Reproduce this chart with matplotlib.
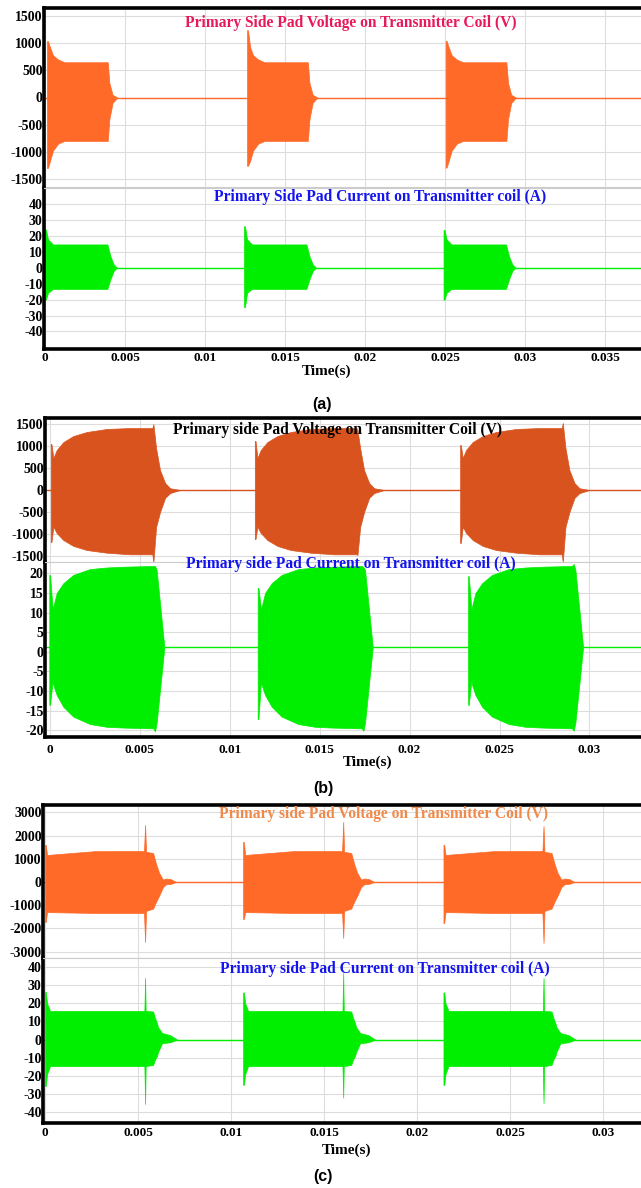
import numpy as np
import matplotlib.pyplot as plt
from matplotlib.ticker import FuncFormatter

plt.rcParams['font.family'] = ['Liberation Serif', 'DejaVu Serif']
plt.rcParams['font.weight'] = 'bold'

W, H = 641, 1188

ORANGE = '#ff6a28'
DARK_ORANGE = '#d9531e'
GREEN = '#00ee00'
BLUE = '#1414ee'

# ---------------- panel (a) ----------------
a_v_starts = [0.000125, 0.01263, 0.02504]
a_v_off = [0.0, 0.00006, 0.00019, 0.000375, 0.0007, 0.0011, 0.0038, 0.0039, 0.0041, 0.0044]
a_v_hi = [1040, 1040, 930, 780, 700, 650, 650, 270, 50, 0]
a_v_lo = [-1300, -1300, -1170, -980, -850, -800, -800, -400, -100, 0]
a_v_start_hi = [1040, 1240, 1044]
a_v_start_lo = [-1300, -1260, -1292]

a_i_starts = [0.0, 0.01244, 0.02491]
a_i_off = [0.0, 0.00006, 0.00019, 0.0005, 0.0039, 0.0041, 0.0043, 0.0045]
a_i_hi = [24, 24, 17.8, 14.6, 14.6, 7, 2, 0]
a_i_lo = [-20, -20, -15.8, -13.3, -13.3, -7, -2, 0]
a_i_start_hi = [24, 26, 23.7]
a_i_start_lo = [-20, -24.7, -20]

# ---------------- panel (b) ----------------
b_v_starts = [0.00004, 0.01139, 0.02281]
b_v_off = [0.0, 0.00004, 0.000145, 0.00033, 0.0007, 0.00126, 0.0020, 0.00311,
           0.00441, 0.00565, 0.00571, 0.00586, 0.00608, 0.00636, 0.00664, 0.00719]
b_v_hi = [1048, 1048, 729, 911, 1093, 1230, 1321, 1390, 1412, 1412, 1500, 950, 450, 160, 40, 0]
b_v_lo = [-1185, -1185, -835, -980, -1140, -1275, -1367, -1428, -1465, -1465, -1640,
          -840, -500, -180, -70, 0]
b_v_start_hi = [1048, 1116, 1025]
b_v_start_lo = [-1185, -1116, -1207]
b_v_end_hi = [1500, 1367, 1526]
b_v_end_lo = [-1640, -1480, -1640]

b_i_idle = 1.2
b_i_starts = [-0.00004, 0.01155, 0.02325]
b_i_off = [0.0, 0.00004, 0.00019, 0.00022, 0.00041, 0.00078, 0.00133, 0.00226,
           0.00319, 0.00412, 0.00578, 0.00588, 0.00597, 0.0064]
b_i_hi = [19.6, 19.6, 10.7, 11.5, 15.0, 17.5, 19.6, 21.1, 21.5, 21.7, 21.9, 21.9, 20.9, 1.2]
b_i_lo = [-13.5, -13.5, -7.2, -8.4, -11.0, -14.0, -16.5, -18.4, -19.1, -19.3, -19.5, -20.3, -18.1, 1.2]
b_i_start_hi = [19.6, 16.3, 19.3]
b_i_start_lo = [-13.5, -17.1, -13.5]
b_i_end_hi = [21.9, 21.6, 22.4]
b_i_end_lo = [-20.3, -20.1, -20.1]

# ---------------- panel (c) ----------------
c_starts = [0.0, 0.01065, 0.02142]
c_v_off = [0.0, 0.00004, 0.00011, 0.00269, 0.00532, 0.00538, 0.00543, 0.00581,
           0.00597, 0.00613, 0.00634, 0.00651, 0.00677, 0.00704]
c_v_hi = [1600, 1600, 1165, 1330, 1337, 2460, 1300, 1250, 780, 400, 100, 150, 120, 0]
c_v_lo = [-1725, -1725, -1300, -1337, -1337, -2590, -1250, -1150, -850, -600, -220, -100, -80, 0]
c_v_start_hi = [1600, 1725, 1600]
c_v_start_lo = [-1725, -1600, -1770]
c_v_end_hi = [2460, 2590, 2415]
c_v_end_lo = [-2590, -2415, -2630]

c_i_off = [0.0, 0.00004, 0.00011, 0.00027, 0.00534, 0.00538, 0.00541, 0.00581,
           0.00591, 0.00602, 0.00607, 0.00629, 0.00672, 0.0071]
c_i_hi = [26.3, 26.3, 20, 15.8, 15.8, 34, 15.8, 15.5, 12, 9, 7, 3.6, 2.5, 0]
c_i_lo = [-25.6, -25.6, -19, -14.6, -14.6, -35.5, -14.6, -14, -11, -9, -7, -2, -1.5, 0]
c_i_start_hi = [26.3, 26, 26]
c_i_start_lo = [-25.6, -25, -25]
c_i_end_hi = [34, 36.7, 34]
c_i_end_lo = [-35.5, -32, -35]

volt_ticks_ab = [-1500, -1000, -500, 0, 500, 1000, 1500]
volt_ticks_c = [-3000, -2000, -1000, 0, 1000, 2000, 3000]
curr_ticks_40 = [-40, -30, -20, -10, 0, 10, 20, 30, 40]
curr_ticks_20 = [-20, -15, -10, -5, 0, 5, 10, 15, 20]
time_ticks_a = [0, 0.005, 0.01, 0.015, 0.02, 0.025, 0.03, 0.035]
time_ticks_bc = [0, 0.005, 0.01, 0.015, 0.02, 0.025, 0.03]


def add_ax(left, top, bottom):
    return fig.add_axes([left / W, 1 - bottom / H, (W - left) / W, (bottom - top) / H])


def style(ax, xlim, xticks, ylim, yticks, upper, xpad=2):
    ax.set_xlim(xlim)
    ax.set_ylim(ylim)
    ax.set_xticks(xticks)
    ax.set_yticks(yticks)
    ax.xaxis.set_major_formatter(FuncFormatter(lambda v, p: f'{v:g}'))
    ax.yaxis.set_major_formatter(FuncFormatter(lambda v, p: f'{v:g}'))
    ax.grid(True, color='#dddddd', lw=0.8)
    ax.set_axisbelow(True)
    ax.tick_params(length=0, labelsize=9.5, pad=1)
    ax.tick_params(axis='y', labelsize=10)
    ax.tick_params(axis='x', pad=xpad)
    ax.spines['right'].set_visible(False)
    ax.spines['left'].set_linewidth(2.6)
    if upper:
        ax.spines['top'].set_linewidth(2.6)
        ax.spines['bottom'].set_color('#cccccc')
        ax.spines['bottom'].set_linewidth(0.8)
        ax.tick_params(axis='x', labelbottom=False)
    else:
        ax.spines['bottom'].set_linewidth(2.6)
        ax.spines['top'].set_color('#cccccc')
        ax.spines['top'].set_linewidth(0.8)


def draw(ax, starts, off, hi, lo, s_hi, s_lo, color, idle=0.0,
         end_idx=None, e_hi=None, e_lo=None):
    ax.axhline(idle, color=color, lw=1.0, zorder=1)
    for k, t0 in enumerate(starts):
        h = np.array(hi, float)
        l = np.array(lo, float)
        h[:2] = s_hi[k]
        l[:2] = s_lo[k]
        if end_idx is not None:
            h[end_idx] = e_hi[k]
            l[end_idx] = e_lo[k]
        ax.fill_between(t0 + np.array(off), l, h, color=color, lw=0.5, zorder=2)


def ftext(x, y, s, **kw):
    fig.text(x / W, 1 - y / H, s, ha='center', va='center', **kw)


fig = plt.figure(figsize=(W / 100, H / 100), dpi=100)

# ---- (a) ----
xa = (-0.00006, 0.03725)
ax = add_ax(44, 8, 187)
draw(ax, a_v_starts, a_v_off, a_v_hi, a_v_lo, a_v_start_hi, a_v_start_lo, ORANGE)
style(ax, xa, time_ticks_a, (-1650, 1650), volt_ticks_ab, True)
ax = add_ax(44, 188, 349)
draw(ax, a_i_starts, a_i_off, a_i_hi, a_i_lo, a_i_start_hi, a_i_start_lo, GREEN)
style(ax, xa, time_ticks_a, (-51, 50), curr_ticks_40, False)
ftext(351, 23, 'Primary Side Pad Voltage on Transmitter Coil (V)', color='#e8185a', fontsize=11.2)
ftext(380, 197, 'Primary Side Pad Current on Transmitter coil (A)', color=BLUE, fontsize=11.2)
ftext(327, 371, 'Time(s)', fontsize=11)
ftext(322, 405, '(a)', fontsize=11.5, family='Liberation Sans')

# ---- (b) ----
xb = (-0.00028, 0.03287)
ax = add_ax(45, 418, 562)
draw(ax, b_v_starts, b_v_off, b_v_hi, b_v_lo, b_v_start_hi, b_v_start_lo, DARK_ORANGE,
     end_idx=10, e_hi=b_v_end_hi, e_lo=b_v_end_lo)
style(ax, xb, time_ticks_bc, (-1640, 1640), volt_ticks_ab, True)
ax = add_ax(45, 562, 737)
draw(ax, b_i_starts, b_i_off, b_i_hi, b_i_lo, b_i_start_hi, b_i_start_lo, GREEN,
     idle=b_i_idle, end_idx=11, e_hi=b_i_end_hi, e_lo=b_i_end_lo)
style(ax, xb, time_ticks_bc, (-21.7, 22.9), curr_ticks_20, False, xpad=5)
ftext(338, 430, 'Primary side Pad Voltage on Transmitter Coil (V)', color='black', fontsize=11.2)
ftext(351, 564, 'Primary side Pad Current on Transmitter coil (A)', color=BLUE, fontsize=11.2)
ftext(367, 762, 'Time(s)', fontsize=11)
ftext(323, 789, '(b)', fontsize=11.5, family='Liberation Sans')

# ---- (c) ----
xc = (-0.00011, 0.03204)
ax = add_ax(43, 805, 958)
draw(ax, c_starts, c_v_off, c_v_hi, c_v_lo, c_v_start_hi, c_v_start_lo, ORANGE,
     end_idx=5, e_hi=c_v_end_hi, e_lo=c_v_end_lo)
style(ax, xc, time_ticks_bc, (-3280, 3320), volt_ticks_c, True)
ax = add_ax(43, 958, 1123)
draw(ax, c_starts, c_i_off, c_i_hi, c_i_lo, c_i_start_hi, c_i_start_lo, GREEN,
     end_idx=5, e_hi=c_i_end_hi, e_lo=c_i_end_lo)
style(ax, xc, time_ticks_bc, (-46, 45), curr_ticks_40, False, xpad=3)
ftext(383, 814, 'Primary side Pad Voltage on Transmitter Coil (V)', color='#f08a4b', fontsize=11.2)
ftext(385, 969, 'Primary side Pad Current on Transmitter coil (A)', color=BLUE, fontsize=11.2)
ftext(347, 1150, 'Time(s)', fontsize=11)
ftext(323, 1177, '(c)', fontsize=11.5, family='Liberation Sans')

fig.savefig('out.png', dpi=100)
